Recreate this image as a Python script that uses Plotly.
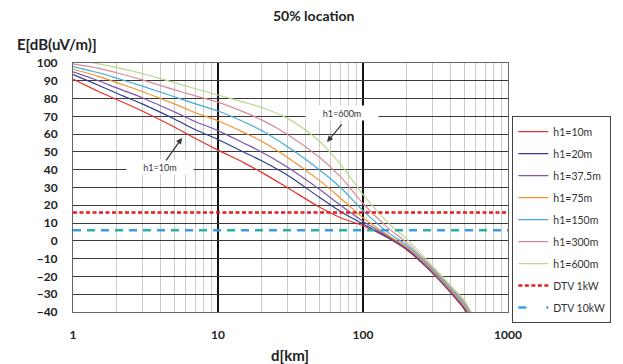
import plotly.graph_objects as go

# Distance grid (km) shared by all field-strength curves
distance_km = [1, 1.5, 2, 3, 5, 7, 10, 15, 20, 30, 50, 70, 100, 150, 200, 300, 400, 500, 600]

# Field strength E [dB(uV/m)], 50% locations, for each transmitter height h1
e_h1_10m = [91, 84, 79.5, 73, 64, 57.5, 51, 44, 38.5, 30, 19, 13, 8.5, 1.5, -5, -18, -29, -38.5, -50]
e_h1_20m = [93.5, 87.5, 83, 77, 68.5, 62.5, 57, 50, 45, 37, 24.5, 16.5, 9.5, 1.8, -4.6, -17.6, -28.6, -38, -49.5]
e_h1_37m = [95, 90, 86, 80.5, 72.5, 67, 62, 55, 50, 41.5, 29, 20, 11, 2.3, -4.2, -17.2, -28.2, -37.5, -49]
e_h1_75m = [96.5, 92.5, 89, 84, 77, 72, 67.5, 61, 56, 47, 34, 24, 13, 3, -3.5, -16.5, -27.5, -36.5, -48]
e_h1_150m = [98, 94.5, 91.5, 87, 81, 77, 73, 67, 62, 53, 40, 30, 17, 4.5, -2.5, -15.8, -26.7, -35.5, -47]
e_h1_300m = [99.5, 97, 94.5, 90.5, 85, 81.5, 78, 72.5, 68, 60, 47, 36, 21, 7, -1, -15, -25.8, -34.5, -46]
e_h1_600m = [102, 99.5, 97.5, 94, 89, 85.5, 82, 78, 75, 69, 56, 43, 26, 10, 1, -14, -25, -33.5, -45]

# DTV minimum field-strength thresholds
dtv_range_km = [1, 1000]
dtv_1kw = [16, 16]
dtv_10kw = [6, 6]

series = [
    ("h1=10m", e_h1_10m, "#e8302a"),
    ("h1=20m", e_h1_20m, "#2f3d8f"),
    ("h1=37.5m", e_h1_37m, "#7d55aa"),
    ("h1=75m", e_h1_75m, "#f0922c"),
    ("h1=150m", e_h1_150m, "#45aad8"),
    ("h1=300m", e_h1_300m, "#d98a9c"),
    ("h1=600m", e_h1_600m, "#bcd98e"),
]

fig = go.Figure()
for i, (name, vals, color) in enumerate(series):
    fig.add_trace(go.Scatter(
        x=distance_km, y=vals, name=name, mode="lines",
        line=dict(color=color, width=1.2, shape="spline", smoothing=0.9),
        legendgroup=f"g{i}",
    ))

fig.add_trace(go.Scatter(
    x=dtv_range_km, y=dtv_1kw, name="DTV 1kW", mode="lines",
    line=dict(color="#e41e1e", width=2.5, dash="4px,2.5px"),
    legendgroup="g7",
))
fig.add_trace(go.Scatter(
    x=dtv_range_km, y=dtv_10kw, name="DTV 10kW", mode="lines",
    line=dict(color="#3a9fe6", width=2.5, dash="8px,20px"),
    legendgroup="g8",
))
# alternate teal dashes interleaved with the blue ones
fig.add_trace(go.Scatter(
    x=dtv_range_km, y=dtv_10kw, mode="lines", showlegend=False, hoverinfo="skip",
    line=dict(color="#2ab3a3", width=2.5, dash="0px,14px,8px,6px"),
    legendgroup="g8",
))

bold = dict(family="Lato, Arial, sans-serif", size=12, color="#222222", weight="bold")

fig.update_layout(
    width=623, height=364,
    margin=dict(l=73, r=115, t=63, b=52),
    paper_bgcolor="white", plot_bgcolor="white",
    font=dict(family="Lato, Arial, sans-serif"),
    showlegend=True,
    legend=dict(
        x=1.01, y=0.787, xanchor="left", yanchor="top",
        bordercolor="#444444", borderwidth=1, bgcolor="white",
        font=dict(size=10.5, color="#333333"),
        traceorder="grouped", tracegroupgap=3, itemwidth=30,
    ),
    xaxis=dict(
        type="log", range=[0, 3],
        tickvals=[1, 10, 100, 1000], ticktext=["1", "10", "100", "1000"],
        tickfont=bold, ticks="", ticklabelstandoff=12,
        showgrid=True, gridcolor="#111111", gridwidth=1.5,
        minor=dict(dtick="D1", showgrid=True, gridcolor="#cacaca", gridwidth=1, ticks=""),
        showline=True, linecolor="#666666", linewidth=1, mirror=True,
        zeroline=False,
    ),
    yaxis=dict(
        range=[-40, 100], dtick=10, tick0=0,
        tickfont=bold, ticks="", ticklabelstandoff=12,
        showgrid=True, gridcolor="#3a3a3a", gridwidth=1.4,
        showline=True, linecolor="#666666", linewidth=1, mirror=True,
        zeroline=False,
    ),
)

ann_font = dict(family="Lato, Arial, sans-serif", size=9, color="#333333")
fig.add_annotation(text="<b>50% location</b>", xref="paper", yref="paper",
                   x=0.554, y=1.189, yanchor="middle", showarrow=False,
                   font=dict(family="Lato, Arial, sans-serif", size=14, color="#222222"))
fig.add_annotation(text="<b>E[dB(uV/m)]</b>", xref="paper", yref="paper",
                   x=-0.133, y=1.076, xanchor="left", yanchor="middle", showarrow=False,
                   font=dict(family="Lato, Arial, sans-serif", size=15, color="#222222"))
fig.add_annotation(text="<b>d[km]</b>", xref="paper", yref="paper",
                   x=0.499, y=-0.173, yanchor="middle", showarrow=False,
                   font=dict(family="Lato, Arial, sans-serif", size=15, color="#222222"))

# curve labels with arrows
fig.add_annotation(text="h1=10m", x=0.6, y=41.6, showarrow=False,
                   bgcolor="white", width=64, height=12, font=ann_font)
fig.add_annotation(text="", x=0.752, y=57.9, ax=-17, ay=24, showarrow=True,
                   arrowhead=2, arrowsize=1, arrowwidth=1.2, arrowcolor="#333333")
fig.add_annotation(text="h1=600m", x=1.855, y=71.9, showarrow=False,
                   bgcolor="white", width=70, height=12, font=ann_font)
fig.add_annotation(text="", x=1.752, y=55.6, ax=16, ay=-19, showarrow=True,
                   arrowhead=2, arrowsize=1, arrowwidth=1.2, arrowcolor="#333333")

fig.write_html("out.html")
